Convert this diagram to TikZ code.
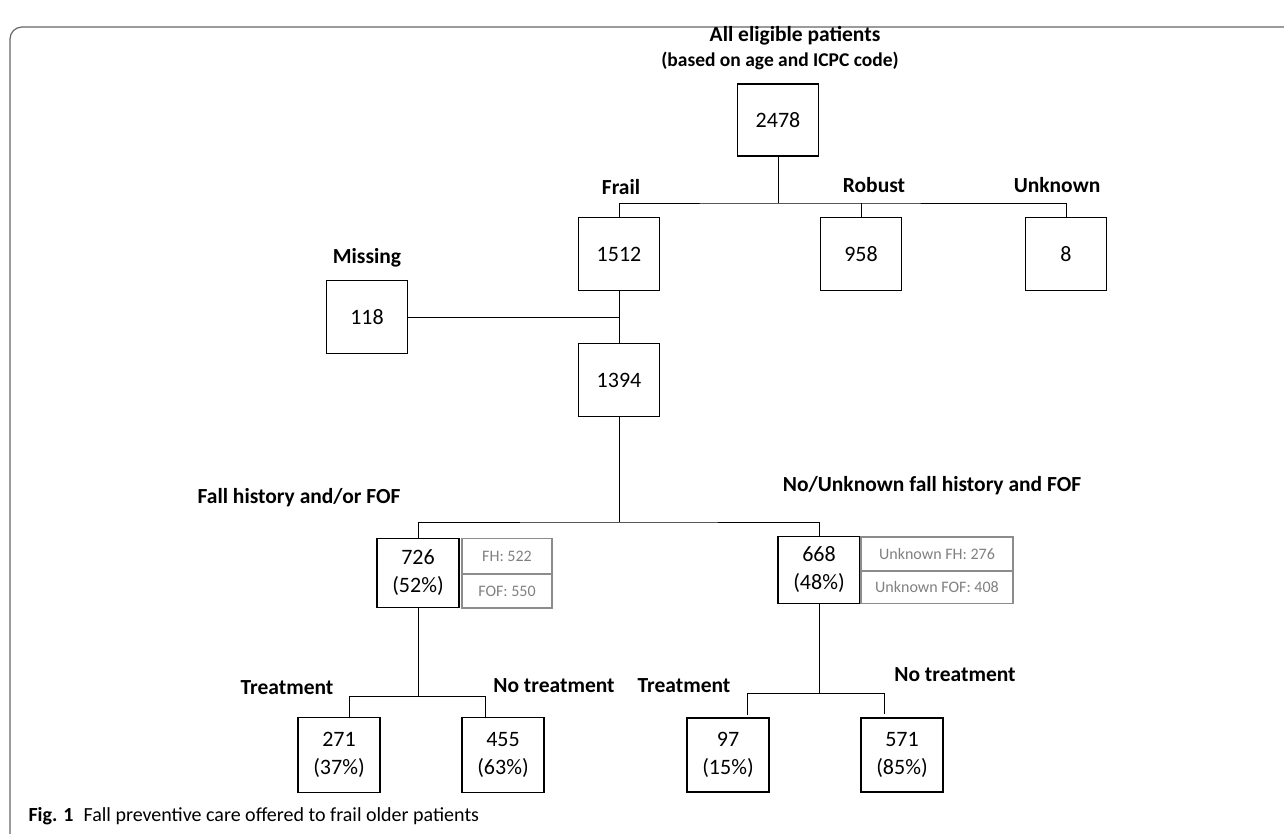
\documentclass[tikz,border=0pt]{standalone}
\usepackage{fontspec}
\setmainfont{Carlito}
\usepackage{tikz}
\usetikzlibrary{positioning}

\tikzset{
  numbox/.style={draw, line width=1.4pt, minimum width=81pt, minimum height=73pt, inner sep=0pt, align=center, font=\fontsize{22}{28}\selectfont},
  infobox/.style={draw=black!45, line width=1.2pt, text=black!50, inner sep=0pt, font=\fontsize{16}{19}\selectfont},
  lbl/.style={anchor=base, font=\bfseries\fontsize{21.5}{24}\selectfont},
  link/.style={line width=1pt},
}

\begin{document}
\begin{tikzpicture}[x=1pt, y=-1pt]
        \useasboundingbox (0,0) rectangle (1284,833);
        % Frame
        \draw[line width=1.2pt, draw=black!60, rounded corners=12pt] (10,900) -- (10,27) -- (1320,27);

        % Top level
        \node[lbl] (ttl1) at (795,41) {All eligible patients};
        \node[lbl, font=\bfseries\fontsize{19.5}{22}\selectfont] (ttl2) at (780,66) {(based on age and ICPC code)};
        \node[numbox, minimum height=72pt] (n2478) at (778,120) {2478};

        % Frailty
        \node[lbl] (frail) at (621,194) {Frail};
        \node[lbl] (robust) at (874,192) {Robust};
        \node[lbl] (unkn) at (1057,192) {Unknown};
        \node[numbox] (n1512) at (619,254) {1512};
        \node[numbox] (n958) at (861,254) {958};
        \node[numbox] (n8) at (1066,254) {8};

        % Missing
        \node[lbl] (miss) at (367,263) {Missing};
        \node[numbox] (n118) at (367,317) {118};
        \node[numbox] (n1394) at (619,380) {1394};

        % Fall history
        \node[lbl] (fallyes) at (299,503) {Fall history and/or FOF};
        \node[lbl] (fallno) at (932,491) {No/Unknown fall history and FOF};
        \node[numbox, minimum width=82pt, minimum height=69pt] (n726) at (418,573) {726\\(52\%)};
        \node[numbox, minimum width=82pt, minimum height=67pt] (n668) at (819,570) {668\\(48\%)};
        \node[infobox, minimum width=90pt, minimum height=35pt] (fh) at (507,556) {FH: 522};
        \node[infobox, minimum width=90pt, minimum height=34pt] (fof) at (507,591) {FOF: 550};
        \node[infobox, minimum width=152pt, minimum height=34pt] (ufh) at (937,554) {Unknown FH: 276};
        \node[infobox, minimum width=152pt, minimum height=33pt] (ufof) at (937,587) {Unknown FOF: 408};

        % Treatment
        \node[lbl] (trl) at (287,694) {Treatment};
        \node[lbl] (ntrl) at (554,692) {No treatment};
        \node[lbl] (trr) at (684,692) {Treatment};
        \node[lbl] (ntrr) at (955,681) {No treatment};
        \node[numbox, minimum width=82pt, minimum height=75pt] (n271) at (339,755) {271\\(37\%)};
        \node[numbox, minimum width=82pt, minimum height=75pt] (n455) at (503,755) {455\\(63\%)};
        \node[numbox, minimum width=82pt, minimum height=74pt] (n97) at (728,755) {97\\(15\%)};
        \node[numbox, minimum width=82pt, minimum height=74pt] (n571) at (902,755) {571\\(85\%)};

        % Caption
        \node[anchor=base west, font=\fontsize{20}{24}\selectfont] (cap) at (25,821) {\textbf{Fig. 1}\enspace Fall preventive care offered to frail older patients};

        % Lines
        \coordinate (b1) at (778,203);
        \coordinate (b2) at (619,522);
        \coordinate (b3) at (418,696);
        \coordinate (b4) at (819,693);
        \coordinate (d271) at (349,718);
        \coordinate (d455) at (485,718);
        \coordinate (d97) at (747,715);
        \coordinate (d571) at (884,714);
        \draw[link] (n2478.south) -- (b1);
        \draw[link] (n1512.north) |- (b1) -| (n8.north);
        \draw[link] (n958.north) -- (n958.north |- b1);
        \draw[link] (n1512.south) -- (n1394.north);
        \draw[link] (n118.east) -- (n118.east -| n1512);
        \draw[link] (n1394.south) -- (b2);
        \draw[link] (n726.north) |- (b2) -| (n668.north);
        \draw[link] (n726.south) -- (b3);
        \draw[link] (d271) |- (b3) -| (d455);
        \draw[link] (n668.south) -- (b4);
        \draw[link] (d97) |- (b4) -| (d571);
    \end{tikzpicture}
\end{document}
